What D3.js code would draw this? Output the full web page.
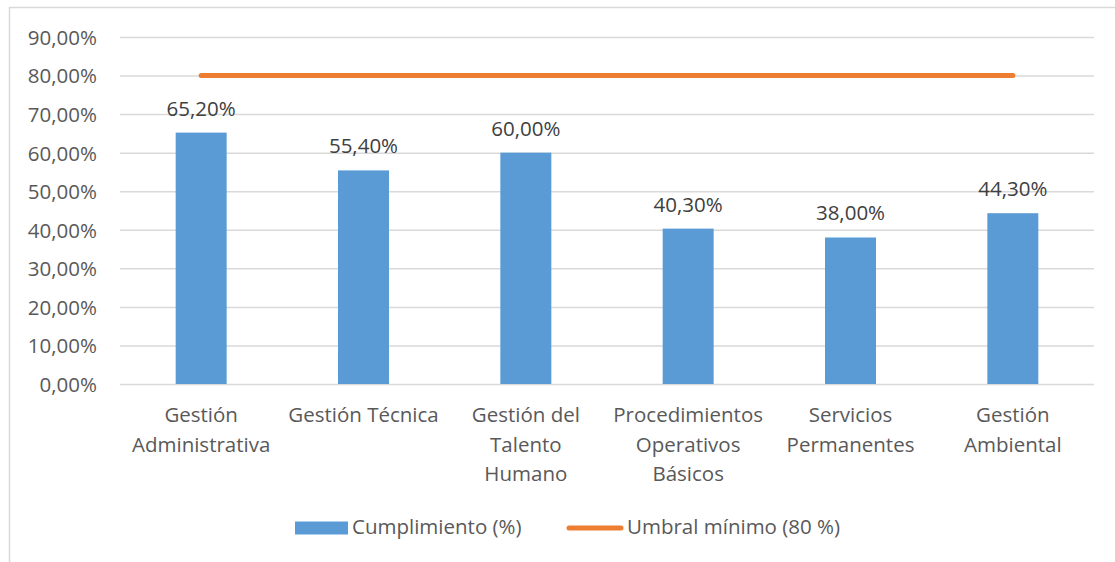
<!DOCTYPE html>
<html>
<head>
  <meta charset="UTF-8">
  <title>Cumplimiento por proceso</title>
  <style>
    body { margin: 0; background: #fff; }
    svg text { font-family: "Open Sans", "Lato", sans-serif; }
  </style>
</head>
<body>
<svg id="chart"></svg>

<script src="https://d3js.org/d3.v7.min.js"></script>
<script>

// data
const categories = [
  ["Gestión", "Administrativa"],
  ["Gestión Técnica"],
  ["Gestión del", "Talento", "Humano"],
  ["Procedimientos", "Operativos", "Básicos"],
  ["Servicios", "Permanentes"],
  ["Gestión", "Ambiental"]
];
const cumplimiento = [65.2, 55.4, 60.0, 40.3, 38.0, 44.3];
const umbral = [80, 80, 80, 80, 80, 80];
const yTicks = [0, 10, 20, 30, 40, 50, 60, 70, 80, 90];
const legendLabels = ["Cumplimiento (%)", "Umbral mínimo (80 %)"];

let width = 1115, height = 562;
let margin = {top: 37, right: 21, bottom: 178, left: 120};
let fontSize = "20.5px";

let svg = d3.select("#chart")
    .attr("width", width)
    .attr("height", height);

// chart area border
svg.append("rect")
    .attr("x", 9.5).attr("y", 7.5)
    .attr("width", width + 10).attr("height", height + 10)
    .attr("fill", "none")
    .attr("stroke", "#d9d9d9")
    .attr("stroke-width", 1.5);

let fmt = v => d3.format(".2f")(v).replace(".", ",") + "%";
let keys = categories.map((c, i) => i);

let x = d3.scaleBand()
    .domain(keys)
    .range([margin.left, width - margin.right]);

let y = d3.scaleLinear()
    .domain([0, 90])
    .range([height - margin.bottom, margin.top]);

// gridlines + y labels
let yAxis = svg.append("g")
    .attr("transform", "translate(" + margin.left + ",0)")
    .call(d3.axisLeft(y)
        .tickValues(yTicks)
        .tickSize(-(width - margin.left - margin.right))
        .tickPadding(23)
        .tickFormat(fmt));
yAxis.select(".domain").remove();
yAxis.selectAll(".tick line")
    .attr("stroke", "#d9d9d9")
    .attr("stroke-width", 1.5);
yAxis.selectAll(".tick text")
    .attr("fill", "#595959")
    .attr("dy", "0.36em")
    .style("font-size", fontSize);

// bars
let barW = 51;
svg.append("g")
    .selectAll("rect")
    .data(cumplimiento)
    .enter()
    .append("rect")
    .attr("x", (d, i) => x(i) + x.bandwidth() / 2 - barW / 2)
    .attr("y", d => y(d))
    .attr("width", barW)
    .attr("height", d => y(0) - y(d))
    .attr("fill", "#5b9bd5");

// bar labels
svg.append("g")
    .selectAll("text")
    .data(cumplimiento)
    .enter()
    .append("text")
    .attr("x", (d, i) => x(i) + x.bandwidth() / 2)
    .attr("y", d => y(d) - 17)
    .attr("text-anchor", "middle")
    .attr("fill", "#404040")
    .style("font-size", fontSize)
    .text(d => fmt(d));

// threshold line
let line = d3.line()
    .x((d, i) => x(i) + x.bandwidth() / 2)
    .y(d => y(d));
svg.append("path")
    .datum(umbral)
    .attr("d", line)
    .attr("fill", "none")
    .attr("stroke", "#ed7d31")
    .attr("stroke-width", 5)
    .attr("stroke-linecap", "round");

// category labels
let cats = svg.append("g")
    .selectAll("text")
    .data(categories)
    .enter()
    .append("text")
    .attr("x", (d, i) => x(i) + x.bandwidth() / 2)
    .attr("y", y(0) + 38)
    .attr("text-anchor", "middle")
    .attr("fill", "#595959")
    .style("font-size", fontSize);
cats.selectAll("tspan")
    .data(d => d)
    .enter()
    .append("tspan")
    .attr("x", function() { return this.parentNode.getAttribute("x"); })
    .attr("dy", (d, i) => i == 0 ? 0 : 29.5)
    .text(d => d);

// legend
let lg = svg.append("g");
lg.append("rect")
    .attr("x", 295).attr("y", 521.5)
    .attr("width", 53).attr("height", 13)
    .attr("fill", "#5b9bd5");
lg.append("text")
    .attr("x", 352).attr("y", 534)
    .attr("fill", "#595959")
    .style("font-size", fontSize)
    .text(legendLabels[0]);
lg.append("line")
    .attr("x1", 569).attr("x2", 621)
    .attr("y1", 528).attr("y2", 528)
    .attr("stroke", "#ed7d31")
    .attr("stroke-width", 5)
    .attr("stroke-linecap", "round");
lg.append("text")
    .attr("x", 627).attr("y", 534)
    .attr("fill", "#595959")
    .style("font-size", fontSize)
    .text(legendLabels[1]);

</script>
</body>
</html>
